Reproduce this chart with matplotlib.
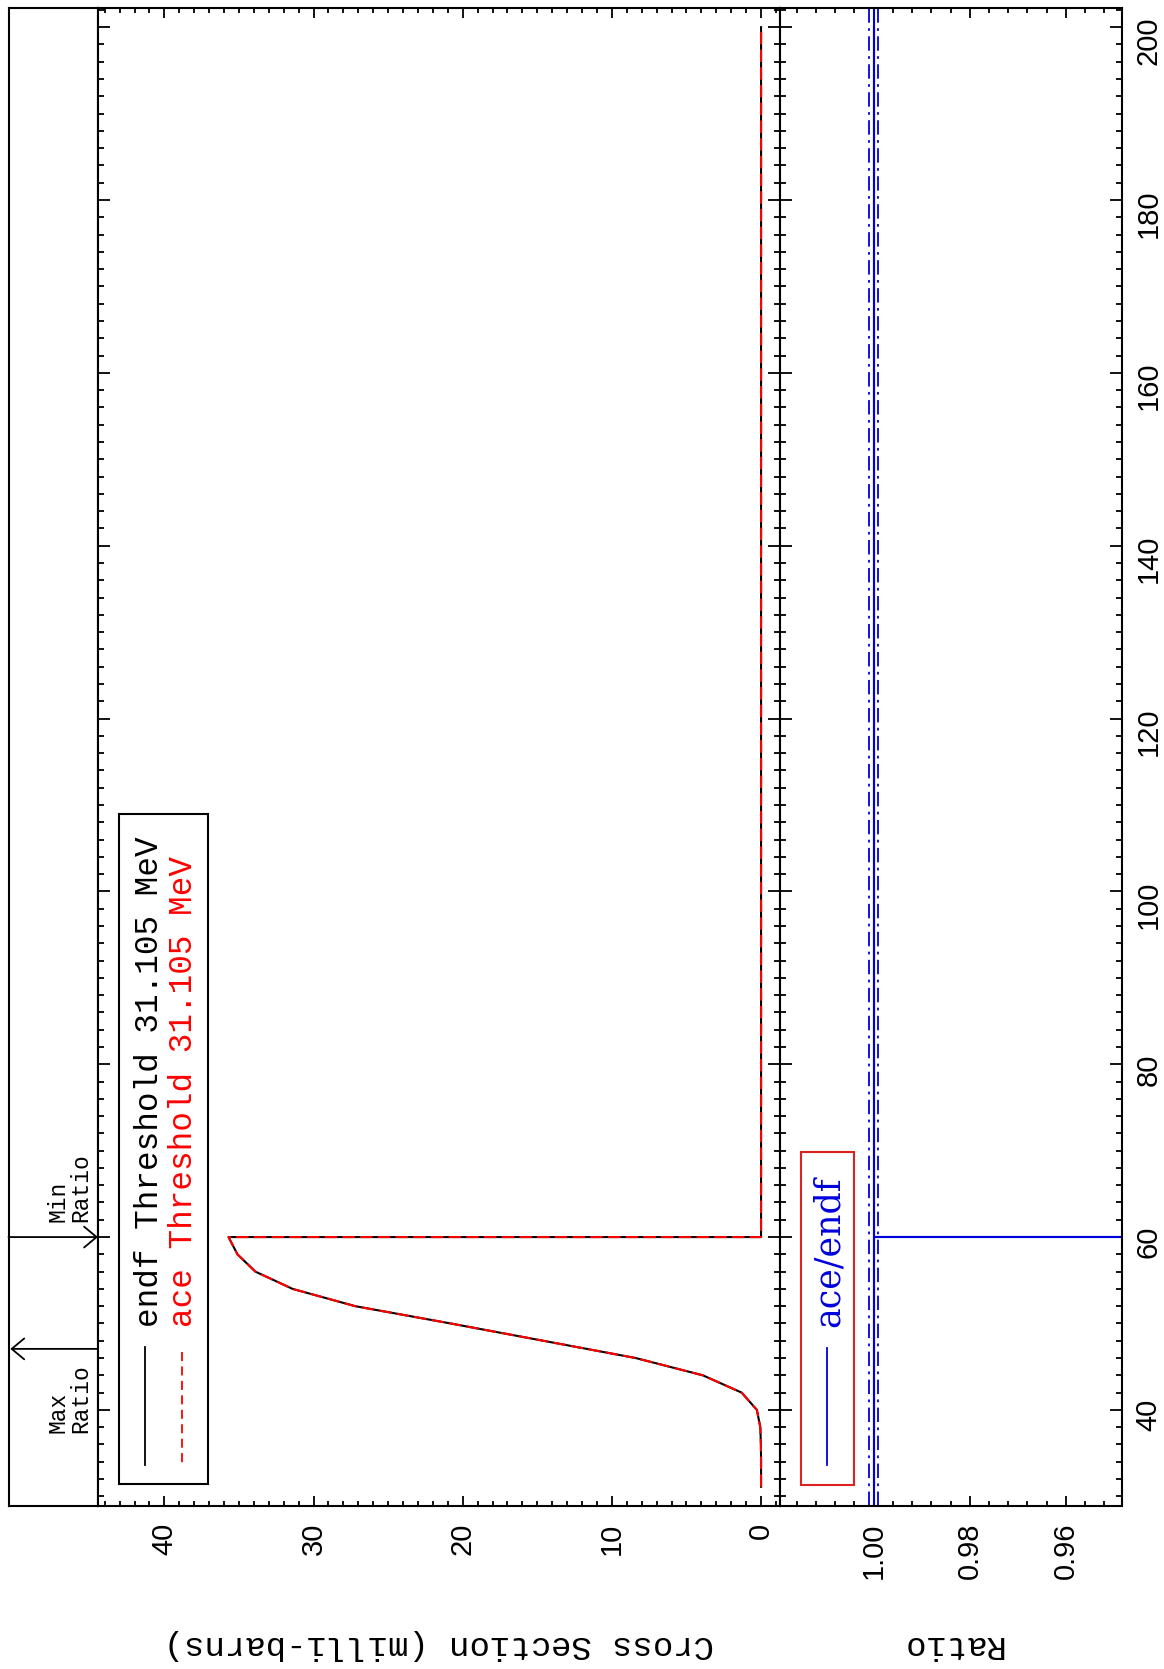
import numpy as np
import matplotlib
matplotlib.use("Agg")
import matplotlib.pyplot as plt
from matplotlib.patches import Rectangle
from matplotlib.lines import Line2D
from matplotlib.ticker import MultipleLocator, FormatStrFormatter

# datos (energia en MeV, seccion eficaz en milli-barns)
energia = [31.105, 32, 34, 36, 38, 40, 42, 44, 46, 48, 50, 52, 54, 56, 58, 60, 60, 200]
endf_xs = [0.0, 0.0, 0.0, 0.01, 0.05, 0.28, 1.3, 3.9, 8.4, 14.6, 20.8, 27.2, 31.4, 33.9, 35.1, 35.7, 0.0, 0.0]
ace_xs = [0.0, 0.0, 0.0, 0.01, 0.05, 0.28, 1.3, 3.9, 8.4, 14.6, 20.8, 27.2, 31.4, 33.9, 35.1, 35.7, 0.0, 0.0]

energia_ratio = [31.105, 60, 60, 60, 200]
ratio = [1.0, 1.0, 0.0, 1.0, 1.0]
tolerancia = 0.001

e_max_ratio = 47.06
e_min_ratio = 60.0

leyenda_endf = "endf Threshold 31.105 MeV"
leyenda_ace = "ace Threshold 31.105 MeV"
leyenda_ratio = "ace/endf"

W, H = 1164, 1669
azul = "#0000dd"
rojo = "#ff0000"


def caja(x0, x1, y0, y1):
    # pixeles (origen arriba a la izquierda) -> fraccion de figura
    return [x0 / W, 1 - y1 / H, (x1 - x0) / W, (y1 - y0) / H]


def fx(x):
    return x / W


def fy(y):
    return 1 - y / H


fig = plt.figure(figsize=(W / 100, H / 100), dpi=100)

ax_tira = fig.add_axes(caja(8.5, 98, 8, 1506))
ax_cs = fig.add_axes(caja(98, 780, 8, 1506))
ax_r = fig.add_axes(caja(780, 1122, 8, 1506))

elim = (28.88, 202.22)
for ax in (ax_tira, ax_cs, ax_r):
    ax.set_ylim(*elim)
    for s in ax.spines.values():
        s.set_linewidth(1.5)

# tira de Max / Min Ratio
ax_tira.set_xlim(0, 1)
ax_tira.set_xticks([])
ax_tira.set_yticks([])
flecha = dict(arrowstyle="->,head_length=0.9,head_width=0.75", lw=1.3, color="black",
              shrinkA=0, shrinkB=0, mutation_scale=10)
ax_tira.annotate("", xy=(1, e_min_ratio), xytext=(0, e_min_ratio), arrowprops=flecha)
ax_tira.annotate("", xy=(0.02, e_max_ratio), xytext=(1, e_max_ratio), arrowprops=flecha)
ax_tira.text(fx(92) / fx(1) and 0.94, e_min_ratio + 15 / 8.642, "Min\nRatio", rotation=90,
             ha="right", va="bottom", family="Liberation Mono", fontsize=16.5,
             multialignment="left", linespacing=1.0)
ax_tira.text(0.94, e_max_ratio - 15 / 8.642, "Max\nRatio", rotation=90,
             ha="right", va="top", family="Liberation Mono", fontsize=16.5,
             multialignment="left", linespacing=1.0)

# panel de seccion eficaz
ax_cs.plot(endf_xs, energia, color="black", lw=1.5)
ax_cs.plot(ace_xs, energia, color=rojo, lw=1.5, dashes=(6, 2.5))
ax_cs.set_xlim(44.45, -1.27)
ax_cs.xaxis.set_major_locator(MultipleLocator(10))
ax_cs.xaxis.set_minor_locator(MultipleLocator(1))
ax_cs.xaxis.set_major_formatter(FormatStrFormatter("%d"))

# panel de razon
ax_r.axvline(1.0, color=azul, lw=1.5)
ax_r.axvline(1.0 + tolerancia, color=azul, lw=1.3, dashes=(8, 3, 1.5, 3))
ax_r.axvline(1.0 - tolerancia, color=azul, lw=1.3, dashes=(8, 3, 1.5, 3))
ax_r.plot(ratio, energia_ratio, color=azul, lw=1.5)
ax_r.set_xlim(1.0195, 0.9483)
ax_r.xaxis.set_major_locator(MultipleLocator(0.02))
ax_r.xaxis.set_minor_locator(MultipleLocator(0.004))
ax_r.xaxis.set_major_formatter(FormatStrFormatter("%.2f"))

for ax in (ax_cs, ax_r):
    ax.yaxis.set_major_locator(MultipleLocator(20))
    ax.yaxis.set_minor_locator(MultipleLocator(2))
    ax.tick_params(axis="x", which="both", direction="in", top=True, bottom=True,
                   labelrotation=90, labelsize=21, pad=12, width=1.3)
    ax.tick_params(axis="x", which="major", length=7.2)
    ax.tick_params(axis="x", which="minor", length=3.3)
    ax.tick_params(axis="y", which="both", direction="in", left=True, right=True,
                   labelleft=False, labelright=False, width=1.3)
    ax.tick_params(axis="y", which="major", length=8.6)
    ax.tick_params(axis="y", which="minor", length=4.3)
    for lab in ax.get_xticklabels():
        lab.set_family("Liberation Sans")

ax_r.tick_params(axis="y", labelright=True, labelrotation=90, labelsize=21, pad=9)
for lab in ax_r.get_yticklabels():
    lab.set_family("Liberation Sans")

# leyenda del panel superior
fig.patches.append(Rectangle((fx(119), fy(1484)), fx(208) - fx(119), fy(814) - fy(1484),
                             transform=fig.transFigure, fill=False, ec="black", lw=1.5))
fig.lines.append(Line2D([fx(145), fx(145)], [fy(1347), fy(1465)], transform=fig.transFigure,
                        color="black", lw=1.3))
fig.lines.append(Line2D([fx(182), fx(182)], [fy(1352), fy(1465)], transform=fig.transFigure,
                        color=rojo, lw=1.3, dashes=(5, 3)))
fig.text(fx(150), fy(1327), leyenda_endf, rotation=90, ha="center", va="bottom",
         family="Liberation Mono", fontsize=23.5, color="black")
fig.text(fx(183), fy(1327), leyenda_ace, rotation=90, ha="center", va="bottom",
         family="Liberation Mono", fontsize=23.5, color=rojo)

# leyenda del panel de razon
fig.patches.append(Rectangle((fx(801), fy(1485)), fx(854) - fx(801), fy(1152) - fy(1485),
                             transform=fig.transFigure, fill=False, ec="#dd2020", lw=1.5))
fig.lines.append(Line2D([fx(827), fx(827)], [fy(1348), fy(1465)], transform=fig.transFigure,
                        color=azul, lw=1.3))
fig.text(fx(829), fy(1327), leyenda_ratio, rotation=90, ha="center", va="bottom",
         family="DejaVu Serif", fontsize=25, color=azul)

# titulos de ejes
fig.text(fx(439), fy(1644), "Cross Section (milli-barns)", rotation=180, ha="center",
         va="center", family="Liberation Mono", fontsize=24.5)
fig.text(fx(951), fy(1644), "Ratio", rotation=180, ha="center", va="center",
         family="Liberation Mono", fontsize=24.5)

fig.savefig("out.png", dpi=100)
